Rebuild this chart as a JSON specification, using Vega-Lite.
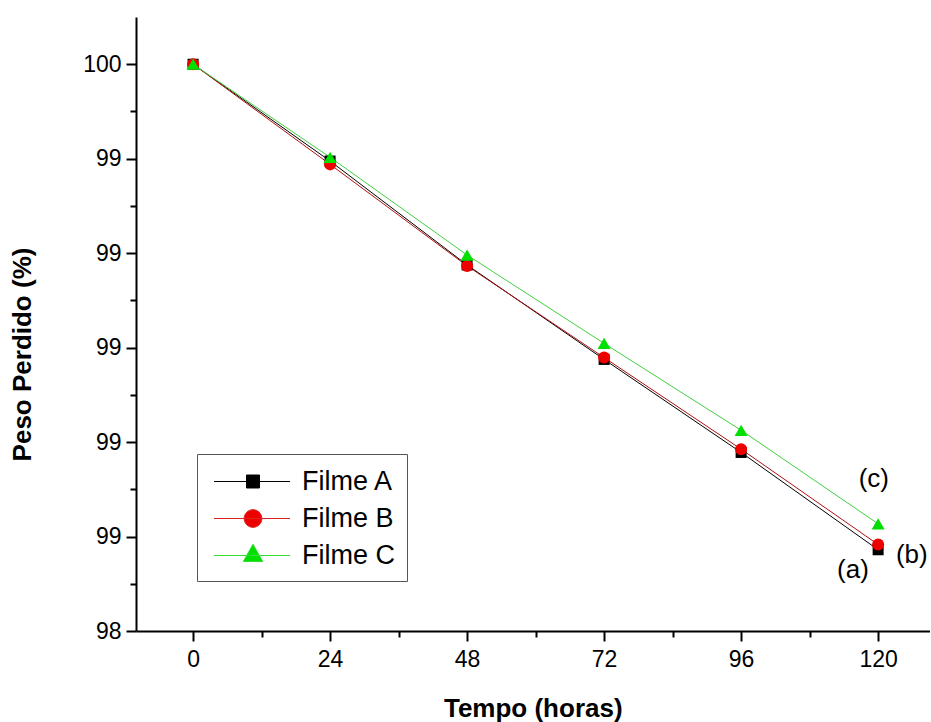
{
  "$schema": "https://vega.github.io/schema/vega-lite/v6.json",
  "width": 793.5,
  "height": 614,
  "autosize": "none",
  "padding": {"left": 136, "top": 17, "right": 1.5, "bottom": 91},
  "background": "white",
  "config": {"view": {"stroke": null}, "font": "Liberation Sans"},
  "datasets": {
    "series": [
      {"hora": 0, "peso": 100, "filme": "Filme A"},
      {"hora": 24, "peso": 99.795, "filme": "Filme A"},
      {"hora": 48, "peso": 99.575, "filme": "Filme A"},
      {"hora": 72, "peso": 99.375, "filme": "Filme A"},
      {"hora": 96, "peso": 99.178, "filme": "Filme A"},
      {"hora": 120, "peso": 98.972, "filme": "Filme A"},
      {"hora": 0, "peso": 100, "filme": "Filme B"},
      {"hora": 24, "peso": 99.788, "filme": "Filme B"},
      {"hora": 48, "peso": 99.573, "filme": "Filme B"},
      {"hora": 72, "peso": 99.379, "filme": "Filme B"},
      {"hora": 96, "peso": 99.185, "filme": "Filme B"},
      {"hora": 120, "peso": 98.983, "filme": "Filme B"},
      {"hora": 0, "peso": 100, "filme": "Filme C"},
      {"hora": 24, "peso": 99.803, "filme": "Filme C"},
      {"hora": 48, "peso": 99.596, "filme": "Filme C"},
      {"hora": 72, "peso": 99.409, "filme": "Filme C"},
      {"hora": 96, "peso": 99.225, "filme": "Filme C"},
      {"hora": 120, "peso": 99.027, "filme": "Filme C"}
    ],
    "notes": [
      {"hora": 115.6, "peso": 98.929, "label": "(a)"},
      {"hora": 125.9, "peso": 98.961, "label": "(b)"},
      {"hora": 119.25, "peso": 99.122, "label": "(c)"}
    ]
  },
  "layer": [
    {
      "data": {"name": "series"},
      "mark": {"type": "line", "strokeWidth": 1},
      "encoding": {
        "x": {
          "field": "hora", "type": "quantitative",
          "scale": {"domain": [-10, 129], "nice": false, "zero": false},
          "axis": {
            "values": [0, 24, 48, 72, 96, 120], "grid": false,
            "tickSize": 10, "tickWidth": 2, "tickColor": "black",
            "domainWidth": 2, "domainColor": "black",
            "labelFontSize": 23, "labelColor": "black", "labelPadding": 7,
            "title": "Tempo (horas)", "titleFontSize": 26, "titleFontWeight": "bold",
            "titleColor": "black", "titleY": 77, "titleBaseline": "middle"
          }
        },
        "y": {
          "field": "peso", "type": "quantitative",
          "scale": {"domain": [98.8, 100.1], "nice": false, "zero": false},
          "axis": {
            "values": [98.8, 99, 99.2, 99.4, 99.6, 99.8, 100], "grid": false,
            "labelExpr": "floor(datum.value + 1e-9)",
            "tickSize": 10, "tickWidth": 2, "tickColor": "black",
            "domainWidth": 2, "domainColor": "black",
            "labelFontSize": 23, "labelColor": "black", "labelPadding": 5,
            "title": "Peso Perdido (%)", "titleFontSize": 26, "titleFontWeight": "bold",
            "titleColor": "black", "titleX": -114, "titleY": 337,
            "titleAngle": 270, "titleAlign": "center", "titleBaseline": "middle"
          }
        },
        "color": {
          "field": "filme", "type": "nominal",
          "scale": {"domain": ["Filme A", "Filme B", "Filme C"], "range": ["#000000", "#b01010", "#40d040"]},
          "legend": null
        }
      }
    },
    {
      "data": {"name": "series"},
      "mark": {"type": "point", "opacity": 0},
      "encoding": {
        "x": {
          "field": "hora", "type": "quantitative",
          "axis": {
            "values": [12, 36, 60, 84, 108], "grid": false, "labels": false, "domain": false,
            "tickSize": 6, "tickWidth": 2, "tickColor": "black", "title": null, "orient": "bottom"
          }
        },
        "y": {
          "field": "peso", "type": "quantitative",
          "axis": {
            "values": [98.9, 99.1, 99.3, 99.5, 99.7, 99.9], "grid": false, "labels": false, "domain": false,
            "tickSize": 6, "tickWidth": 2, "tickColor": "black", "title": null, "orient": "left"
          }
        }
      }
    },
    {
      "data": {"name": "series"},
      "mark": {"type": "point", "filled": true, "opacity": 1},
      "encoding": {
        "x": {"field": "hora", "type": "quantitative", "axis": null},
        "y": {"field": "peso", "type": "quantitative", "axis": null},
        "color": {
          "field": "filme", "type": "nominal",
          "scale": {"domain": ["Filme A", "Filme B", "Filme C"], "range": ["#000000", "#ee0000", "#00e000"]},
          "legend": {
            "title": null, "orient": "none", "legendX": 61, "legendY": 437,
            "padding": 12, "strokeColor": "#555555", "fillColor": "white",
            "labelFontSize": 27, "labelColor": "black", "labelOffset": 62, "labelLimit": 300,
            "rowPadding": 8, "symbolSize": 900,
            "encoding": {
              "symbols": {
                "shape": {"value": {"expr": "datum.value === 'Filme A' ? 'M-2.6,0H2.47M-0.433,-0.433H0.433V0.433H-0.433Z' : datum.value === 'Filme B' ? 'M-2.6,0H2.47M-0.59,0A0.59,0.59 0 1,0 0.59,0A0.59,0.59 0 1,0 -0.59,0Z' : 'M-2.6,0H2.47M0,-0.753L0.647,0.4H-0.647Z'"}},
                "size": {"value": 900},
                "x": {"value": 44},
                "strokeWidth": {"value": 1},
                "stroke": {"value": {"expr": "datum.value === 'Filme A' ? '#000000' : datum.value === 'Filme B' ? '#dd2222' : '#33dd33'"}},
                "fill": {"value": {"expr": "datum.value === 'Filme A' ? '#000000' : datum.value === 'Filme B' ? '#ee0000' : '#00e000'"}},
                "opacity": {"value": 1}
              }
            }
          }
        },
        "shape": {
          "field": "filme", "type": "nominal",
          "scale": {"domain": ["Filme A", "Filme B", "Filme C"], "range": ["square", "circle", "triangle-up"]},
          "legend": null
        },
        "size": {
          "field": "filme", "type": "nominal",
          "scale": {"domain": ["Filme A", "Filme B", "Filme C"], "range": [121, 169, 225]},
          "legend": null
        }
      }
    },
    {
      "data": {"name": "notes"},
      "mark": {"type": "text", "fontSize": 26, "color": "black", "align": "center", "baseline": "middle"},
      "encoding": {
        "x": {"field": "hora", "type": "quantitative", "axis": null},
        "y": {"field": "peso", "type": "quantitative", "axis": null},
        "text": {"field": "label"}
      }
    }
  ],
  "resolve": {"scale": {"color": "independent"}, "axis": {"x": "independent", "y": "independent"}}
}
